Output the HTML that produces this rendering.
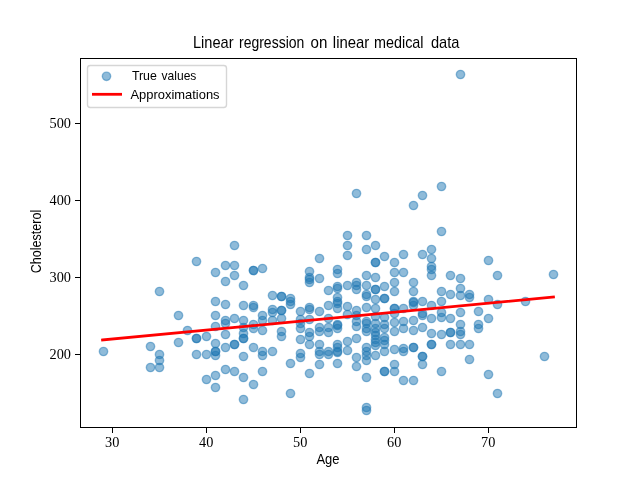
<!DOCTYPE html>
<html><head><meta charset="utf-8">
<style>
html,body{margin:0;padding:0;background:#fff;width:640px;height:480px;overflow:hidden}
svg{display:block;will-change:transform}
text{font-family:"Liberation Sans",sans-serif;fill:#000}
.serif{font-family:"Liberation Serif",serif}
</style></head><body>
<svg width="640" height="480" viewBox="0 0 640 480">
<rect x="0" y="0" width="640" height="480" fill="#fff"/>

<g fill="#1f77b4" fill-opacity="0.5" stroke="#1f77b4" stroke-opacity="0.5" stroke-width="1.39">
<circle cx="103.5" cy="351.5" r="4.17"/>
<circle cx="150.5" cy="367.5" r="4.17"/>
<circle cx="150.5" cy="346.5" r="4.17"/>
<circle cx="159.5" cy="367.5" r="4.17"/>
<circle cx="159.5" cy="360.5" r="4.17"/>
<circle cx="159.5" cy="354.5" r="4.17"/>
<circle cx="159.5" cy="291.5" r="4.17"/>
<circle cx="178.5" cy="342.5" r="4.17"/>
<circle cx="178.5" cy="315.5" r="4.17"/>
<circle cx="187.5" cy="330.5" r="4.17"/>
<circle cx="196.5" cy="354.5" r="4.17"/>
<circle cx="196.5" cy="338.5" r="4.17"/>
<circle cx="196.5" cy="338.5" r="4.17"/>
<circle cx="196.5" cy="261.5" r="4.17"/>
<circle cx="206.5" cy="379.5" r="4.17"/>
<circle cx="206.5" cy="354.5" r="4.17"/>
<circle cx="206.5" cy="336.5" r="4.17"/>
<circle cx="215.5" cy="387.5" r="4.17"/>
<circle cx="215.5" cy="375.5" r="4.17"/>
<circle cx="215.5" cy="355.5" r="4.17"/>
<circle cx="215.5" cy="351.5" r="4.17"/>
<circle cx="215.5" cy="351.5" r="4.17"/>
<circle cx="215.5" cy="343.5" r="4.17"/>
<circle cx="215.5" cy="326.5" r="4.17"/>
<circle cx="215.5" cy="315.5" r="4.17"/>
<circle cx="215.5" cy="301.5" r="4.17"/>
<circle cx="215.5" cy="272.5" r="4.17"/>
<circle cx="225.5" cy="369.5" r="4.17"/>
<circle cx="225.5" cy="347.5" r="4.17"/>
<circle cx="225.5" cy="334.5" r="4.17"/>
<circle cx="225.5" cy="323.5" r="4.17"/>
<circle cx="225.5" cy="320.5" r="4.17"/>
<circle cx="225.5" cy="304.5" r="4.17"/>
<circle cx="225.5" cy="281.5" r="4.17"/>
<circle cx="225.5" cy="265.5" r="4.17"/>
<circle cx="234.5" cy="371.5" r="4.17"/>
<circle cx="234.5" cy="344.5" r="4.17"/>
<circle cx="234.5" cy="344.5" r="4.17"/>
<circle cx="234.5" cy="318.5" r="4.17"/>
<circle cx="234.5" cy="275.5" r="4.17"/>
<circle cx="234.5" cy="265.5" r="4.17"/>
<circle cx="234.5" cy="245.5" r="4.17"/>
<circle cx="243.5" cy="399.5" r="4.17"/>
<circle cx="243.5" cy="377.5" r="4.17"/>
<circle cx="243.5" cy="356.5" r="4.17"/>
<circle cx="243.5" cy="338.5" r="4.17"/>
<circle cx="243.5" cy="338.5" r="4.17"/>
<circle cx="243.5" cy="333.5" r="4.17"/>
<circle cx="243.5" cy="327.5" r="4.17"/>
<circle cx="243.5" cy="320.5" r="4.17"/>
<circle cx="243.5" cy="305.5" r="4.17"/>
<circle cx="243.5" cy="285.5" r="4.17"/>
<circle cx="253.5" cy="384.5" r="4.17"/>
<circle cx="253.5" cy="347.5" r="4.17"/>
<circle cx="253.5" cy="328.5" r="4.17"/>
<circle cx="253.5" cy="324.5" r="4.17"/>
<circle cx="253.5" cy="307.5" r="4.17"/>
<circle cx="253.5" cy="305.5" r="4.17"/>
<circle cx="253.5" cy="270.5" r="4.17"/>
<circle cx="253.5" cy="270.5" r="4.17"/>
<circle cx="262.5" cy="371.5" r="4.17"/>
<circle cx="262.5" cy="355.5" r="4.17"/>
<circle cx="262.5" cy="351.5" r="4.17"/>
<circle cx="262.5" cy="330.5" r="4.17"/>
<circle cx="262.5" cy="320.5" r="4.17"/>
<circle cx="262.5" cy="315.5" r="4.17"/>
<circle cx="262.5" cy="268.5" r="4.17"/>
<circle cx="272.5" cy="351.5" r="4.17"/>
<circle cx="272.5" cy="320.5" r="4.17"/>
<circle cx="272.5" cy="312.5" r="4.17"/>
<circle cx="272.5" cy="309.5" r="4.17"/>
<circle cx="272.5" cy="295.5" r="4.17"/>
<circle cx="281.5" cy="336.5" r="4.17"/>
<circle cx="281.5" cy="331.5" r="4.17"/>
<circle cx="281.5" cy="318.5" r="4.17"/>
<circle cx="281.5" cy="310.5" r="4.17"/>
<circle cx="281.5" cy="310.5" r="4.17"/>
<circle cx="281.5" cy="296.5" r="4.17"/>
<circle cx="281.5" cy="296.5" r="4.17"/>
<circle cx="290.5" cy="393.5" r="4.17"/>
<circle cx="290.5" cy="363.5" r="4.17"/>
<circle cx="290.5" cy="304.5" r="4.17"/>
<circle cx="290.5" cy="301.5" r="4.17"/>
<circle cx="290.5" cy="298.5" r="4.17"/>
<circle cx="300.5" cy="357.5" r="4.17"/>
<circle cx="300.5" cy="353.5" r="4.17"/>
<circle cx="300.5" cy="339.5" r="4.17"/>
<circle cx="300.5" cy="328.5" r="4.17"/>
<circle cx="300.5" cy="323.5" r="4.17"/>
<circle cx="300.5" cy="319.5" r="4.17"/>
<circle cx="300.5" cy="311.5" r="4.17"/>
<circle cx="309.5" cy="373.5" r="4.17"/>
<circle cx="309.5" cy="344.5" r="4.17"/>
<circle cx="309.5" cy="336.5" r="4.17"/>
<circle cx="309.5" cy="332.5" r="4.17"/>
<circle cx="309.5" cy="319.5" r="4.17"/>
<circle cx="309.5" cy="309.5" r="4.17"/>
<circle cx="309.5" cy="307.5" r="4.17"/>
<circle cx="309.5" cy="282.5" r="4.17"/>
<circle cx="309.5" cy="279.5" r="4.17"/>
<circle cx="309.5" cy="277.5" r="4.17"/>
<circle cx="309.5" cy="271.5" r="4.17"/>
<circle cx="319.5" cy="364.5" r="4.17"/>
<circle cx="319.5" cy="354.5" r="4.17"/>
<circle cx="319.5" cy="351.5" r="4.17"/>
<circle cx="319.5" cy="344.5" r="4.17"/>
<circle cx="319.5" cy="331.5" r="4.17"/>
<circle cx="319.5" cy="327.5" r="4.17"/>
<circle cx="319.5" cy="311.5" r="4.17"/>
<circle cx="319.5" cy="278.5" r="4.17"/>
<circle cx="319.5" cy="258.5" r="4.17"/>
<circle cx="328.5" cy="354.5" r="4.17"/>
<circle cx="328.5" cy="351.5" r="4.17"/>
<circle cx="328.5" cy="332.5" r="4.17"/>
<circle cx="328.5" cy="327.5" r="4.17"/>
<circle cx="328.5" cy="318.5" r="4.17"/>
<circle cx="328.5" cy="305.5" r="4.17"/>
<circle cx="328.5" cy="290.5" r="4.17"/>
<circle cx="337.5" cy="363.5" r="4.17"/>
<circle cx="337.5" cy="352.5" r="4.17"/>
<circle cx="337.5" cy="351.5" r="4.17"/>
<circle cx="337.5" cy="347.5" r="4.17"/>
<circle cx="337.5" cy="344.5" r="4.17"/>
<circle cx="337.5" cy="328.5" r="4.17"/>
<circle cx="337.5" cy="325.5" r="4.17"/>
<circle cx="337.5" cy="324.5" r="4.17"/>
<circle cx="337.5" cy="308.5" r="4.17"/>
<circle cx="337.5" cy="303.5" r="4.17"/>
<circle cx="337.5" cy="301.5" r="4.17"/>
<circle cx="337.5" cy="297.5" r="4.17"/>
<circle cx="337.5" cy="288.5" r="4.17"/>
<circle cx="337.5" cy="286.5" r="4.17"/>
<circle cx="337.5" cy="273.5" r="4.17"/>
<circle cx="337.5" cy="269.5" r="4.17"/>
<circle cx="347.5" cy="350.5" r="4.17"/>
<circle cx="347.5" cy="341.5" r="4.17"/>
<circle cx="347.5" cy="314.5" r="4.17"/>
<circle cx="347.5" cy="306.5" r="4.17"/>
<circle cx="347.5" cy="285.5" r="4.17"/>
<circle cx="347.5" cy="255.5" r="4.17"/>
<circle cx="347.5" cy="245.5" r="4.17"/>
<circle cx="347.5" cy="235.5" r="4.17"/>
<circle cx="356.5" cy="366.5" r="4.17"/>
<circle cx="356.5" cy="357.5" r="4.17"/>
<circle cx="356.5" cy="338.5" r="4.17"/>
<circle cx="356.5" cy="326.5" r="4.17"/>
<circle cx="356.5" cy="321.5" r="4.17"/>
<circle cx="356.5" cy="315.5" r="4.17"/>
<circle cx="356.5" cy="310.5" r="4.17"/>
<circle cx="356.5" cy="289.5" r="4.17"/>
<circle cx="356.5" cy="285.5" r="4.17"/>
<circle cx="356.5" cy="282.5" r="4.17"/>
<circle cx="356.5" cy="193.5" r="4.17"/>
<circle cx="366.5" cy="410.5" r="4.17"/>
<circle cx="366.5" cy="407.5" r="4.17"/>
<circle cx="366.5" cy="377.5" r="4.17"/>
<circle cx="366.5" cy="360.5" r="4.17"/>
<circle cx="366.5" cy="355.5" r="4.17"/>
<circle cx="366.5" cy="351.5" r="4.17"/>
<circle cx="366.5" cy="347.5" r="4.17"/>
<circle cx="366.5" cy="331.5" r="4.17"/>
<circle cx="366.5" cy="328.5" r="4.17"/>
<circle cx="366.5" cy="323.5" r="4.17"/>
<circle cx="366.5" cy="321.5" r="4.17"/>
<circle cx="366.5" cy="307.5" r="4.17"/>
<circle cx="366.5" cy="296.5" r="4.17"/>
<circle cx="366.5" cy="294.5" r="4.17"/>
<circle cx="366.5" cy="285.5" r="4.17"/>
<circle cx="366.5" cy="275.5" r="4.17"/>
<circle cx="366.5" cy="249.5" r="4.17"/>
<circle cx="366.5" cy="235.5" r="4.17"/>
<circle cx="375.5" cy="355.5" r="4.17"/>
<circle cx="375.5" cy="345.5" r="4.17"/>
<circle cx="375.5" cy="342.5" r="4.17"/>
<circle cx="375.5" cy="339.5" r="4.17"/>
<circle cx="375.5" cy="335.5" r="4.17"/>
<circle cx="375.5" cy="332.5" r="4.17"/>
<circle cx="375.5" cy="328.5" r="4.17"/>
<circle cx="375.5" cy="323.5" r="4.17"/>
<circle cx="375.5" cy="316.5" r="4.17"/>
<circle cx="375.5" cy="308.5" r="4.17"/>
<circle cx="375.5" cy="299.5" r="4.17"/>
<circle cx="375.5" cy="289.5" r="4.17"/>
<circle cx="375.5" cy="289.5" r="4.17"/>
<circle cx="375.5" cy="277.5" r="4.17"/>
<circle cx="375.5" cy="262.5" r="4.17"/>
<circle cx="375.5" cy="262.5" r="4.17"/>
<circle cx="375.5" cy="245.5" r="4.17"/>
<circle cx="384.5" cy="371.5" r="4.17"/>
<circle cx="384.5" cy="371.5" r="4.17"/>
<circle cx="384.5" cy="351.5" r="4.17"/>
<circle cx="384.5" cy="344.5" r="4.17"/>
<circle cx="384.5" cy="340.5" r="4.17"/>
<circle cx="384.5" cy="337.5" r="4.17"/>
<circle cx="384.5" cy="328.5" r="4.17"/>
<circle cx="384.5" cy="324.5" r="4.17"/>
<circle cx="384.5" cy="317.5" r="4.17"/>
<circle cx="384.5" cy="298.5" r="4.17"/>
<circle cx="384.5" cy="298.5" r="4.17"/>
<circle cx="384.5" cy="286.5" r="4.17"/>
<circle cx="384.5" cy="256.5" r="4.17"/>
<circle cx="394.5" cy="371.5" r="4.17"/>
<circle cx="394.5" cy="364.5" r="4.17"/>
<circle cx="394.5" cy="349.5" r="4.17"/>
<circle cx="394.5" cy="331.5" r="4.17"/>
<circle cx="394.5" cy="322.5" r="4.17"/>
<circle cx="394.5" cy="313.5" r="4.17"/>
<circle cx="394.5" cy="308.5" r="4.17"/>
<circle cx="394.5" cy="308.5" r="4.17"/>
<circle cx="394.5" cy="291.5" r="4.17"/>
<circle cx="394.5" cy="282.5" r="4.17"/>
<circle cx="394.5" cy="272.5" r="4.17"/>
<circle cx="394.5" cy="262.5" r="4.17"/>
<circle cx="403.5" cy="380.5" r="4.17"/>
<circle cx="403.5" cy="351.5" r="4.17"/>
<circle cx="403.5" cy="348.5" r="4.17"/>
<circle cx="403.5" cy="328.5" r="4.17"/>
<circle cx="403.5" cy="321.5" r="4.17"/>
<circle cx="403.5" cy="308.5" r="4.17"/>
<circle cx="403.5" cy="272.5" r="4.17"/>
<circle cx="403.5" cy="254.5" r="4.17"/>
<circle cx="413.5" cy="380.5" r="4.17"/>
<circle cx="413.5" cy="347.5" r="4.17"/>
<circle cx="413.5" cy="347.5" r="4.17"/>
<circle cx="413.5" cy="330.5" r="4.17"/>
<circle cx="413.5" cy="320.5" r="4.17"/>
<circle cx="413.5" cy="305.5" r="4.17"/>
<circle cx="413.5" cy="302.5" r="4.17"/>
<circle cx="413.5" cy="301.5" r="4.17"/>
<circle cx="413.5" cy="291.5" r="4.17"/>
<circle cx="413.5" cy="282.5" r="4.17"/>
<circle cx="413.5" cy="205.5" r="4.17"/>
<circle cx="422.5" cy="364.5" r="4.17"/>
<circle cx="422.5" cy="356.5" r="4.17"/>
<circle cx="422.5" cy="356.5" r="4.17"/>
<circle cx="422.5" cy="327.5" r="4.17"/>
<circle cx="422.5" cy="315.5" r="4.17"/>
<circle cx="422.5" cy="313.5" r="4.17"/>
<circle cx="422.5" cy="301.5" r="4.17"/>
<circle cx="422.5" cy="254.5" r="4.17"/>
<circle cx="422.5" cy="195.5" r="4.17"/>
<circle cx="431.5" cy="344.5" r="4.17"/>
<circle cx="431.5" cy="344.5" r="4.17"/>
<circle cx="431.5" cy="333.5" r="4.17"/>
<circle cx="431.5" cy="318.5" r="4.17"/>
<circle cx="431.5" cy="305.5" r="4.17"/>
<circle cx="431.5" cy="275.5" r="4.17"/>
<circle cx="431.5" cy="269.5" r="4.17"/>
<circle cx="431.5" cy="266.5" r="4.17"/>
<circle cx="431.5" cy="258.5" r="4.17"/>
<circle cx="431.5" cy="249.5" r="4.17"/>
<circle cx="441.5" cy="371.5" r="4.17"/>
<circle cx="441.5" cy="334.5" r="4.17"/>
<circle cx="441.5" cy="317.5" r="4.17"/>
<circle cx="441.5" cy="312.5" r="4.17"/>
<circle cx="441.5" cy="301.5" r="4.17"/>
<circle cx="441.5" cy="291.5" r="4.17"/>
<circle cx="441.5" cy="231.5" r="4.17"/>
<circle cx="441.5" cy="186.5" r="4.17"/>
<circle cx="450.5" cy="344.5" r="4.17"/>
<circle cx="450.5" cy="332.5" r="4.17"/>
<circle cx="450.5" cy="332.5" r="4.17"/>
<circle cx="450.5" cy="318.5" r="4.17"/>
<circle cx="450.5" cy="294.5" r="4.17"/>
<circle cx="450.5" cy="275.5" r="4.17"/>
<circle cx="460.5" cy="344.5" r="4.17"/>
<circle cx="460.5" cy="334.5" r="4.17"/>
<circle cx="460.5" cy="331.5" r="4.17"/>
<circle cx="460.5" cy="324.5" r="4.17"/>
<circle cx="460.5" cy="312.5" r="4.17"/>
<circle cx="460.5" cy="295.5" r="4.17"/>
<circle cx="460.5" cy="288.5" r="4.17"/>
<circle cx="460.5" cy="278.5" r="4.17"/>
<circle cx="469.5" cy="359.5" r="4.17"/>
<circle cx="469.5" cy="344.5" r="4.17"/>
<circle cx="469.5" cy="297.5" r="4.17"/>
<circle cx="469.5" cy="294.5" r="4.17"/>
<circle cx="478.5" cy="328.5" r="4.17"/>
<circle cx="478.5" cy="324.5" r="4.17"/>
<circle cx="478.5" cy="311.5" r="4.17"/>
<circle cx="488.5" cy="374.5" r="4.17"/>
<circle cx="488.5" cy="318.5" r="4.17"/>
<circle cx="488.5" cy="299.5" r="4.17"/>
<circle cx="488.5" cy="260.5" r="4.17"/>
<circle cx="497.5" cy="393.5" r="4.17"/>
<circle cx="497.5" cy="304.5" r="4.17"/>
<circle cx="497.5" cy="275.5" r="4.17"/>
<circle cx="525.5" cy="301.5" r="4.17"/>
<circle cx="544.5" cy="356.5" r="4.17"/>
<circle cx="553.5" cy="274.5" r="4.17"/>
<circle cx="460.5" cy="74.5" r="4.17"/>
</g>
<line x1="102.55" y1="339.95" x2="553.45" y2="297.05" stroke="#ff0000" stroke-width="2.78" stroke-linecap="square"/>
<g fill="#000">
<rect x="80" y="58" width="497" height="1"/>
<rect x="80" y="427" width="497" height="1"/>
<rect x="80" y="58" width="1" height="370"/>
<rect x="576" y="58" width="1" height="370"/>
<rect x="112" y="428" width="1" height="5"/>
<rect x="206" y="428" width="1" height="5"/>
<rect x="300" y="428" width="1" height="5"/>
<rect x="394" y="428" width="1" height="5"/>
<rect x="488" y="428" width="1" height="5"/>
<rect x="75" y="354" width="5" height="1"/>
<rect x="75" y="277" width="5" height="1"/>
<rect x="75" y="200" width="5" height="1"/>
<rect x="75" y="123" width="5" height="1"/>
</g>
<text class="serif" x="0" y="447" font-size="14.3" text-anchor="middle" transform="translate(112.20 0) scale(1.000 1)">30</text>
<text class="serif" x="0" y="447" font-size="14.3" text-anchor="middle" transform="translate(206.20 0) scale(1.000 1)">40</text>
<text class="serif" x="0" y="447" font-size="14.3" text-anchor="middle" transform="translate(300.20 0) scale(1.000 1)">50</text>
<text class="serif" x="0" y="447" font-size="14.3" text-anchor="middle" transform="translate(394.20 0) scale(1.000 1)">60</text>
<text class="serif" x="0" y="447" font-size="14.3" text-anchor="middle" transform="translate(488.20 0) scale(1.000 1)">70</text>
<text class="serif" x="0" y="358.60" font-size="14.3" text-anchor="end" transform="translate(71.00 0) scale(1.000 1)">200</text>
<text class="serif" x="0" y="281.60" font-size="14.3" text-anchor="end" transform="translate(71.00 0) scale(1.000 1)">300</text>
<text class="serif" x="0" y="204.60" font-size="14.3" text-anchor="end" transform="translate(71.00 0) scale(1.000 1)">400</text>
<text class="serif" x="0" y="127.60" font-size="14.3" text-anchor="end" transform="translate(71.00 0) scale(1.000 1)">500</text>
<text x="316.40" y="464" font-size="14.2" textLength="23.10" lengthAdjust="spacingAndGlyphs">Age</text>
<text x="0" y="0" font-size="14.2" textLength="63.40" lengthAdjust="spacingAndGlyphs" transform="translate(41.4 273.20) rotate(-90)">Cholesterol</text>
<text x="193.00" y="47.9" font-size="16.1" textLength="40.60" lengthAdjust="spacingAndGlyphs">Linear</text>
<text x="239.00" y="47.9" font-size="16.1" textLength="65.30" lengthAdjust="spacingAndGlyphs">regression</text>
<text x="310.50" y="47.9" font-size="16.1" textLength="16.80" lengthAdjust="spacingAndGlyphs">on</text>
<text x="332.85" y="47.9" font-size="16.1" textLength="36.45" lengthAdjust="spacingAndGlyphs">linear</text>
<text x="374.00" y="47.9" font-size="16.1" textLength="49.50" lengthAdjust="spacingAndGlyphs">medical</text>
<text x="430.90" y="47.9" font-size="16.1" textLength="28.50" lengthAdjust="spacingAndGlyphs">data</text>
<rect x="87.5" y="65.5" width="139" height="42" rx="2.8" ry="2.8" fill="#fff" fill-opacity="0.8" stroke="#cccccc" stroke-opacity="0.8" stroke-width="1.39"/>
<circle cx="106.5" cy="76.3" r="4.17" fill="#1f77b4" fill-opacity="0.5" stroke="#1f77b4" stroke-opacity="0.5" stroke-width="1.39"/>
<line x1="92" y1="94.3" x2="122" y2="94.3" stroke="#ff0000" stroke-width="2.78"/>
<text x="131.90" y="80.1" font-size="13.6" textLength="25.00" lengthAdjust="spacingAndGlyphs">True</text>
<text x="161.60" y="80.1" font-size="13.6" textLength="34.80" lengthAdjust="spacingAndGlyphs">values</text>
<text x="130.50" y="98.9" font-size="13.6" textLength="89.10" lengthAdjust="spacingAndGlyphs">Approximations</text>
</svg></body></html>
